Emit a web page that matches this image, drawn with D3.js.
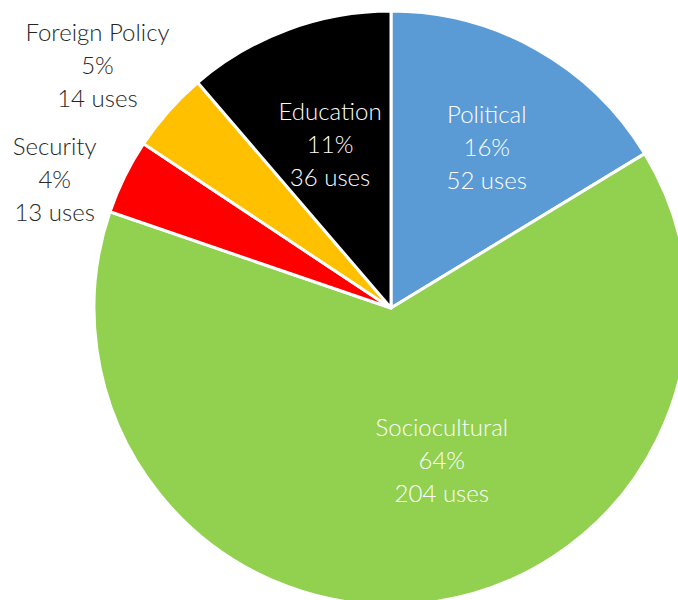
<!DOCTYPE html>
<html><head><meta charset="utf-8">
<script src="https://cdn.jsdelivr.net/npm/d3@7"></script>
<style>html,body{margin:0;padding:0;background:#fff;}</style>
</head><body>
<svg id="chart" width="678" height="600"></svg>
<script>
const categories = ["Political", "Sociocultural", "Security", "Foreign Policy", "Education"];
const uses = [52, 204, 13, 14, 36];
const percents = ["16%", "64%", "4%", "5%", "11%"];
const colors = ["#5B9BD5", "#92D050", "#FF0000", "#FFC000", "#000000"];

// label layout (polar offsets from the pie centre: angle in degrees clockwise from top, radius in px)
const labelLayout = [
  {a: 30.8, r: 187, fill: "#ffffff"},
  {a: 161.6, r: 161, fill: "#ffffff"},
  {a: 290.9, r: 360, fill: "#262626"},
  {a: 309.6, r: 381, fill: "#262626"},
  {a: 339.5, r: 174, fill: "#ffffff"}
];

const svg = d3.select("#chart");
const cx = 391, cy = 308, R = 297;
const g = svg.append("g").attr("transform", `translate(${cx},${cy})`);

const pie = d3.pie().sort(null).value(d => d.v);
const data = categories.map((c, i) => ({c, v: uses[i], p: percents[i], col: colors[i], i}));
const arcs = pie(data);
const arc = d3.arc().innerRadius(0).outerRadius(R);

g.selectAll("path").data(arcs).join("path")
  .attr("d", arc)
  .attr("fill", d => d.data.col)
  .attr("stroke", "#ffffff")
  .attr("stroke-width", 3)
  .attr("stroke-linejoin", "round");

const lh = 33;
arcs.forEach((d, i) => {
  const L = labelLayout[i];
  const ang = L.a * Math.PI / 180;
  const x = L.r * Math.sin(ang), y = -L.r * Math.cos(ang);
  const t = g.append("text")
    .attr("text-anchor", "middle")
    .attr("font-family", "Lato, 'Open Sans', sans-serif")
    .attr("font-weight", 300)
    .attr("font-size", 24)
    .attr("fill", L.fill);
  [d.data.c, d.data.p, d.data.v + " uses"].forEach((s, k) => {
    t.append("tspan").attr("x", x).attr("y", y + (k - 1) * lh).attr("dy", "0.35em").text(s);
  });
});
</script>
</body></html>
